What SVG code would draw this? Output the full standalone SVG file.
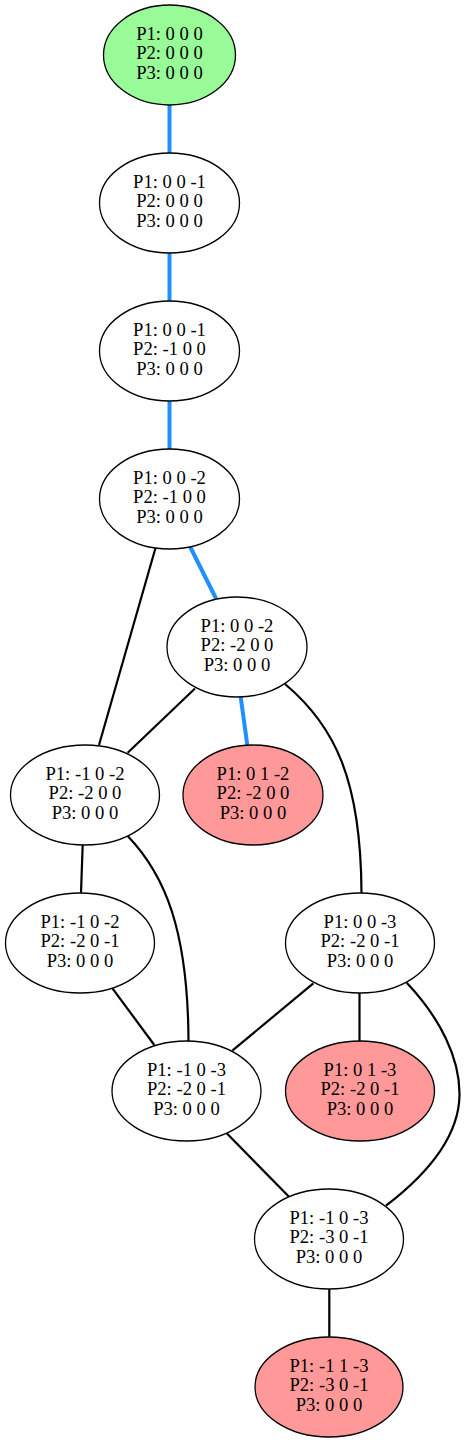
<svg xmlns="http://www.w3.org/2000/svg" width="465" height="1442" viewBox="0 0 465 1442">
<style>
.n ellipse{stroke:#000;stroke-width:1.3;fill:#fff}
.n.start ellipse{fill:#98fb98}
.n.end ellipse{fill:#ff9999}
.n text{font-family:"Liberation Serif","Times New Roman",serif;font-size:18.6px;fill:#000;text-anchor:middle}
.e path{fill:none;stroke:#000;stroke-width:2.2}
.e path.b{stroke:#1e90ff;stroke-width:4}
</style>
<rect width="465" height="1442" fill="#fff"/>
<g id="connectors" class="e">
<path class="b" d="M169.5,105 L169.5,153"/>
<path class="b" d="M169.5,253 L169.5,301"/>
<path class="b" d="M169.5,401 L169.5,449"/>
<path class="b" d="M190,546.5 L216,598.5"/>
<path d="M155.5,548 L99,745"/>
<path d="M195,688.5 L127.7,752.7"/>
<path class="b" d="M240.7,697 L247.3,745"/>
<path d="M285,684 C335,726 361,780 361.5,893"/>
<path d="M82.7,844.5 L81,892.7"/>
<path d="M127.7,836 C165,875 188,930 188.5,1041"/>
<path d="M111.7,987.3 L154.3,1045"/>
<path d="M313.3,983.3 L232.3,1050.7"/>
<path d="M359.5,992.7 L359.5,1041"/>
<path d="M406.7,982.7 C440,1018 460,1058 459.5,1095 C459,1135 430,1172 386,1205.7"/>
<path d="M226.7,1133.3 L289,1196.7"/>
<path d="M329.3,1288.5 L329.3,1336.7"/>
</g>
<g id="n1" class="n start"><ellipse cx="169.5" cy="55" rx="66" ry="50"/><text x="169.5" y="39.5">P1: 0 0 0</text><text x="169.5" y="59.3">P2: 0 0 0</text><text x="169.5" y="79">P3: 0 0 0</text></g>
<g id="n2" class="n"><ellipse cx="169.5" cy="203" rx="70" ry="50"/><text x="169.5" y="187.5">P1: 0 0 -1</text><text x="169.5" y="207.3">P2: 0 0 0</text><text x="169.5" y="227">P3: 0 0 0</text></g>
<g id="n3" class="n"><ellipse cx="169.5" cy="351" rx="70" ry="50"/><text x="169.5" y="335.5">P1: 0 0 -1</text><text x="169.5" y="355.3">P2: -1 0 0</text><text x="169.5" y="375">P3: 0 0 0</text></g>
<g id="n4" class="n"><ellipse cx="169.5" cy="499" rx="70" ry="50"/><text x="169.5" y="483.5">P1: 0 0 -2</text><text x="169.5" y="503.3">P2: -1 0 0</text><text x="169.5" y="523">P3: 0 0 0</text></g>
<g id="n5" class="n"><ellipse cx="237" cy="647" rx="70" ry="50"/><text x="237" y="631.5">P1: 0 0 -2</text><text x="237" y="651.3">P2: -2 0 0</text><text x="237" y="671">P3: 0 0 0</text></g>
<g id="n6" class="n"><ellipse cx="85" cy="795" rx="74.5" ry="50"/><text x="85" y="779.5">P1: -1 0 -2</text><text x="85" y="799.3">P2: -2 0 0</text><text x="85" y="819">P3: 0 0 0</text></g>
<g id="n7" class="n end"><ellipse cx="253" cy="795" rx="70" ry="50"/><text x="253" y="779.5">P1: 0 1 -2</text><text x="253" y="799.3">P2: -2 0 0</text><text x="253" y="819">P3: 0 0 0</text></g>
<g id="n8" class="n"><ellipse cx="80" cy="943" rx="74.5" ry="50"/><text x="80" y="927.5">P1: -1 0 -2</text><text x="80" y="947.3">P2: -2 0 -1</text><text x="80" y="967">P3: 0 0 0</text></g>
<g id="n9" class="n"><ellipse cx="360" cy="943" rx="74.5" ry="50"/><text x="360" y="927.5">P1: 0 0 -3</text><text x="360" y="947.3">P2: -2 0 -1</text><text x="360" y="967">P3: 0 0 0</text></g>
<g id="n10" class="n"><ellipse cx="186.5" cy="1091" rx="74.5" ry="50"/><text x="186.5" y="1075.5">P1: -1 0 -3</text><text x="186.5" y="1095.3">P2: -2 0 -1</text><text x="186.5" y="1115">P3: 0 0 0</text></g>
<g id="n11" class="n end"><ellipse cx="360" cy="1091" rx="74.5" ry="50"/><text x="360" y="1075.5">P1: 0 1 -3</text><text x="360" y="1095.3">P2: -2 0 -1</text><text x="360" y="1115">P3: 0 0 0</text></g>
<g id="n12" class="n"><ellipse cx="329" cy="1239" rx="74.5" ry="50"/><text x="329" y="1223.5">P1: -1 0 -3</text><text x="329" y="1243.3">P2: -3 0 -1</text><text x="329" y="1263">P3: 0 0 0</text></g>
<g id="n13" class="n end"><ellipse cx="329" cy="1387" rx="74" ry="50"/><text x="329" y="1371.5">P1: -1 1 -3</text><text x="329" y="1391.3">P2: -3 0 -1</text><text x="329" y="1411">P3: 0 0 0</text></g>
</svg>
